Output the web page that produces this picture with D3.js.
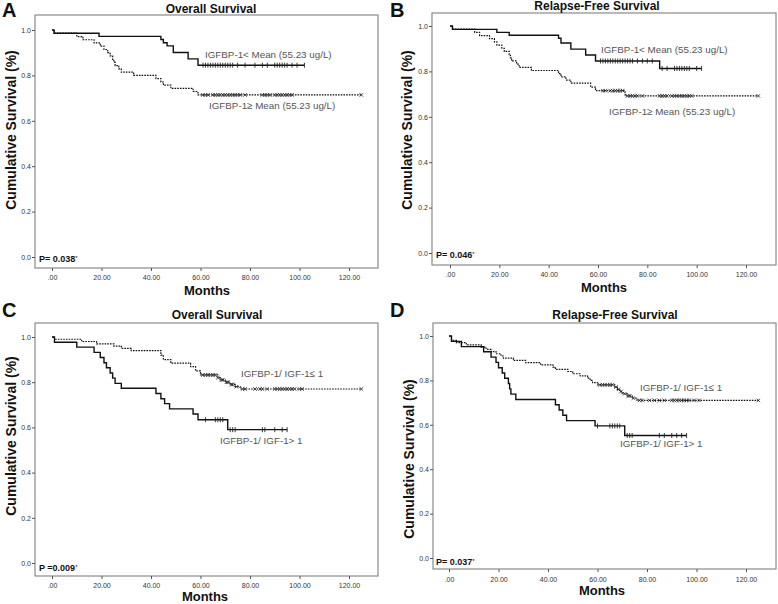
<!DOCTYPE html>
<html><head><meta charset="utf-8">
<script src="https://cdn.jsdelivr.net/npm/d3@7"></script>
<style>body{margin:0;background:#fff}</style>
</head><body><svg id="c" width="778" height="604"></svg>
<script>
// ---------- data ----------
const xTickValues = [0, 20, 40, 60, 80, 100, 120];
const xTickLabels = [".00", "20.00", "40.00", "60.00", "80.00", "100.00", "120.00"];
const yTickValues = [0, 0.2, 0.4, 0.6, 0.8, 1.0];
const yTickLabels = ["0.0", "0.2", "0.4", "0.6", "0.8", "1.0"];

const panelLetters = ["A", "B", "C", "D"];
const panelTitles = ["Overall Survival", "Relapse-Free Survival", "Overall Survival", "Relapse-Free Survival"];
const pValueLabels = ["P= 0.038", "P= 0.046", "P =0.009", "P= 0.037"];
const solidLabels = ["IGFBP-1< Mean (55.23 ug/L)", "IGFBP-1< Mean (55.23 ug/L)", "IGFBP-1/ IGF-1> 1", "IGFBP-1/ IGF-1> 1"];
const dashedLabels = ["IGFBP-1\u2265 Mean (55.23 ug/L)", "IGFBP-1\u2265 Mean (55.23 ug/L)", "IGFBP-1/ IGF-1\u2264 1", "IGFBP-1/ IGF-1\u2264 1"];

// [months, cumulative survival] at each event
const aSolidSteps = [[0,1],[0.8,0.986],[19,0.972],[44,0.958],[45,0.944],[46.5,0.93],[49,0.901],[55,0.873],[59,0.845]];
const aSolidCensor = [61,62,63,64,65,66,67,68,69,70,71,72,73,75,78,82,85,87,90,91,92,93,94,95,97,99,102];
const aDashedSteps = [[0,1],[1,0.986],[10,0.971],[12.5,0.957],[17,0.943],[19.5,0.929],[21,0.914],[22.5,0.9],[23.5,0.886],[24.5,0.871],[25,0.857],[25.5,0.843],[27,0.829],[28,0.814],[33,0.8],[42,0.786],[44,0.771],[45,0.757],[48,0.743],[57,0.729],[59,0.714]];
const aDashedCensor = [61,62,63,65,66,67,68,69,70,71,72,73,74,75,76,78,85,86,87,88,90,91,92,93,94,95,96,97,125];

const bSolidSteps = [[0,1],[1,0.985],[19,0.972],[24,0.959],[44,0.946],[45,0.925],[49,0.898],[55,0.872],[59,0.846],[85,0.813]];
const bSolidCensor = [61,62,63,64,65,66,67,68,69,70,71,72,73,74,76,78,80,82,86,88,91,92,93,94,95,96,97,100,102];
const bDashedSteps = [[0,1],[1,0.986],[10,0.972],[12,0.958],[16,0.944],[18,0.93],[19,0.916],[21,0.902],[22,0.888],[24,0.874],[24.5,0.86],[25,0.846],[27,0.832],[28,0.818],[33,0.804],[44,0.79],[45,0.776],[47,0.762],[49,0.748],[57,0.731],[59,0.715],[71,0.692]];
const bDashedCensor = [62,63,65,66,67,68,69,70,72,73,74,75,76,78,85,86,87,88,90,91,92,93,94,95,96,97,98,125];

const cSolidSteps = [[0,1],[1,0.977],[10,0.955],[17,0.932],[19.5,0.909],[21,0.886],[22,0.864],[23.5,0.841],[24.5,0.818],[25.5,0.795],[28,0.773],[42,0.75],[44,0.727],[45.5,0.705],[47.5,0.682],[57,0.659],[59,0.634],[71,0.59]];
const cSolidCensor = [62,66,67,68,69,72,73,74,85,86,90,93,95];
const cDashedSteps = [[0,1],[1,0.99],[12,0.98],[18,0.97],[25,0.96],[28,0.95],[32,0.94],[44,0.92],[45,0.9],[48,0.884],[56,0.869],[58,0.85],[60,0.832],[67,0.82],[68,0.81],[70,0.8],[72,0.79],[74,0.78],[76,0.77]];
const cDashedCensor = [61,62,63,64,65,66,67,68.5,69,70.5,71,72.5,73,74.5,77,78,82,84,85,87,90,91,92,93,94,95,96,97,98,100,101,125];

const dSolidSteps = [[0,1],[1,0.976],[5,0.952],[14,0.929],[17,0.905],[19,0.881],[20,0.857],[21.5,0.833],[22.5,0.81],[24,0.786],[24.5,0.762],[25,0.738],[27,0.714],[43,0.69],[44.5,0.667],[46,0.643],[47.5,0.619],[59,0.595],[71,0.552]];
const dSolidCensor = [60,65,66,67,68,69,72,73,74,85,87,90,92,94,96];
const dDashedSteps = [[0,1],[1,0.98],[3,0.97],[7,0.96],[13,0.95],[15,0.94],[17,0.93],[19,0.92],[21,0.91],[22,0.9],[26,0.89],[31,0.88],[37,0.87],[42,0.86],[43,0.85],[48,0.84],[50,0.83],[53,0.82],[56,0.81],[57,0.8],[58,0.79],[60,0.78],[67,0.77],[68,0.76],[69,0.75],[70,0.74],[72,0.73],[74,0.72],[76,0.71]];
const dDashedCensor = [61,62,63,64,65,66,67.5,68.5,69.5,71,72.5,73,74.5,77,78,81,83,85,87,90,91,92,93,94,95,96,97,99,101,125];

const solidSteps = [aSolidSteps, bSolidSteps, cSolidSteps, dSolidSteps];
const solidCensor = [aSolidCensor, bSolidCensor, cSolidCensor, dSolidCensor];
const dashedSteps = [aDashedSteps, bDashedSteps, cDashedSteps, dDashedSteps];
const dashedCensor = [aDashedCensor, bDashedCensor, cDashedCensor, dDashedCensor];

// ---------- layout ----------
const layouts = [
  {frame:[35,15,378,268], xr:[52,349], yr:[257,30], letter:[2,17], title:[211,13], ylab:[16,130], xlab:[207,295], xtickY:280, p:[39,262], sLab:[205,58], dLab:[209,109]},
  {frame:[432,13,776,265], xr:[450,746], yr:[253,26], letter:[390,17], title:[597,10], ylab:[412,130], xlab:[604,292], xtickY:277, p:[436,258], sLab:[601,53], dLab:[609,115]},
  {frame:[35,323,378,576], xr:[52,349], yr:[563,337], letter:[2,317], title:[217,319], ylab:[16,436], xlab:[205,601], xtickY:588, p:[39,571], sLab:[220,444], dLab:[241,377]},
  {frame:[433,323,776,569], xr:[449,746], yr:[558,336], letter:[390,317], title:[615,319], ylab:[414,459], xlab:[602,595], xtickY:582, p:[436,565], sLab:[620,447], dLab:[640,391]}
];

const FONT = "Arial, 'Liberation Sans', sans-serif";
const svg = d3.select("#c");

function survAt(steps, t) {
  let s = steps[0][1];
  for (const [tt, v] of steps) { if (tt <= t) s = v; }
  return s;
}

layouts.forEach((L, i) => {
  const g = svg.append("g");
  const x = d3.scaleLinear().domain([0, 120]).range(L.xr);
  const y = d3.scaleLinear().domain([0, 1]).range(L.yr);
  const [fx0, fy0, fx1, fy1] = L.frame;

  g.append("rect").attr("x", fx0).attr("y", fy0).attr("width", fx1 - fx0).attr("height", fy1 - fy0)
    .attr("fill", "none").attr("stroke", "#8a8a8a").attr("stroke-width", 1.2);

  const yAxis = d3.axisLeft(y).tickValues(yTickValues).tickSize(3).tickPadding(1)
    .tickFormat((d, k) => yTickLabels[k]);
  const ya = g.append("g").attr("transform", `translate(${fx0},0)`).call(yAxis);
  ya.select(".domain").remove();
  ya.selectAll("line").attr("stroke", "#555");
  ya.selectAll("text").attr("font-family", FONT).attr("font-size", 7).attr("fill", "#333");

  const xAxis = d3.axisBottom(x).tickValues(xTickValues).tickSize(3).tickPadding(0)
    .tickFormat((d, k) => xTickLabels[k]);
  const xa = g.append("g").attr("transform", `translate(0,${fy1})`).call(xAxis);
  xa.select(".domain").remove();
  xa.selectAll("line").attr("stroke", "#555");
  xa.selectAll("text").attr("font-family", FONT).attr("font-size", 7).attr("fill", "#333")
    .attr("dy", null).attr("y", L.xtickY - fy1);

  const line = d3.line().x(d => x(d[0])).y(d => y(d[1])).curve(d3.curveStepAfter);
  const drawCurve = (steps, censor, dashed) => {
    const last = d3.max(censor);
    const pts = steps.concat([[last, steps[steps.length - 1][1]]]);
    g.append("path").attr("d", line(pts)).attr("fill", "none").attr("stroke", "#111")
      .attr("stroke-width", dashed ? 1.2 : 1.4)
      .attr("stroke-dasharray", dashed ? "1.6,1.1" : null);
    censor.forEach(t => {
      const cx = x(t), cy = y(survAt(steps, t));
      if (dashed) {
        g.append("path").attr("d", `M${cx-1.8},${cy-1.8}L${cx+1.8},${cy+1.8}M${cx-1.8},${cy+1.8}L${cx+1.8},${cy-1.8}`)
          .attr("stroke", "#222").attr("stroke-width", 0.8).attr("fill", "none");
      } else {
        g.append("line").attr("x1", cx).attr("x2", cx).attr("y1", cy - 2.5).attr("y2", cy + 2.5)
          .attr("stroke", "#222").attr("stroke-width", 0.9);
      }
    });
  };
  drawCurve(dashedSteps[i], dashedCensor[i], true);
  drawCurve(solidSteps[i], solidCensor[i], false);

  g.append("text").attr("x", L.sLab[0]).attr("y", L.sLab[1]).text(solidLabels[i])
    .attr("font-family", FONT).attr("font-size", 9.8).attr("fill", "#555");
  g.append("text").attr("x", L.dLab[0]).attr("y", L.dLab[1]).text(dashedLabels[i])
    .attr("font-family", FONT).attr("font-size", 9.8).attr("fill", "#555");

  const pt = g.append("text").attr("x", L.p[0]).attr("y", L.p[1])
    .attr("font-family", FONT).attr("font-size", 9).attr("font-weight", "bold").attr("fill", "#111");
  pt.append("tspan").text(pValueLabels[i]);
  pt.append("tspan").text("*").attr("font-size", 6).attr("font-weight", "normal").attr("dy", -2);

  g.append("text").attr("x", L.letter[0]).attr("y", L.letter[1]).text(panelLetters[i])
    .attr("font-family", FONT).attr("font-size", 20).attr("font-weight", "bold").attr("fill", "#111");
  g.append("text").attr("x", L.title[0]).attr("y", L.title[1]).text(panelTitles[i])
    .attr("text-anchor", "middle").attr("font-family", FONT).attr("font-size", 12)
    .attr("font-weight", "bold").attr("fill", "#111");

  g.append("text").attr("transform", `translate(${L.ylab[0]},${L.ylab[1]}) rotate(-90)`)
    .text("Cumulative Survival (%)").attr("text-anchor", "middle").attr("font-family", FONT)
    .attr("font-size", 14).attr("font-weight", "bold").attr("fill", "#111");
  g.append("text").attr("x", L.xlab[0]).attr("y", L.xlab[1]).text("Months")
    .attr("text-anchor", "middle").attr("font-family", FONT).attr("font-size", 13)
    .attr("font-weight", "bold").attr("fill", "#111");
});
</script>
</body></html>
